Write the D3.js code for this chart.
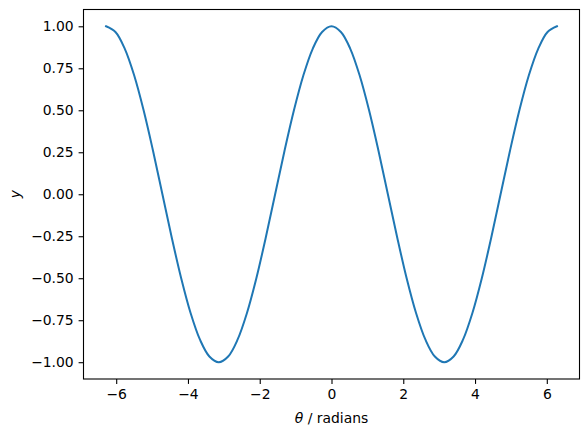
<!DOCTYPE html>
<html>
<head>
<meta charset="utf-8">
<script src="https://cdn.jsdelivr.net/npm/d3@7"></script>
<style>
  body { margin: 0; background: #fff; }
  text { font-family: "DejaVu Sans", sans-serif; fill: #000; }
</style>
</head>
<body>
<div id="chart"></div>
<script>
// theta samples (radians) and y values
const theta = [-6.283, -6.021, -5.760, -5.498, -5.236, -4.974, -4.712, -4.451, -4.189, -3.927, -3.665, -3.403,
  -3.142, -2.880, -2.618, -2.356, -2.094, -1.833, -1.571, -1.309, -1.047, -0.785, -0.524, -0.262,
  0, 0.262, 0.524, 0.785, 1.047, 1.309, 1.571, 1.833, 2.094, 2.356, 2.618, 2.880,
  3.142, 3.403, 3.665, 3.927, 4.189, 4.451, 4.712, 4.974, 5.236, 5.498, 5.760, 6.021, 6.283];
const yVals = [1.000, 0.966, 0.866, 0.707, 0.500, 0.259, 0.000, -0.259, -0.500, -0.707, -0.866, -0.966,
  -1.000, -0.966, -0.866, -0.707, -0.500, -0.259, 0.000, 0.259, 0.500, 0.707, 0.866, 0.966,
  1.000, 0.966, 0.866, 0.707, 0.500, 0.259, 0.000, -0.259, -0.500, -0.707, -0.866, -0.966,
  -1.000, -0.966, -0.866, -0.707, -0.500, -0.259, 0.000, 0.259, 0.500, 0.707, 0.866, 0.966, 1.000];
const xTicks = [-6, -4, -2, 0, 2, 4, 6];
const yTicks = [-1.00, -0.75, -0.50, -0.25, 0.00, 0.25, 0.50, 0.75, 1.00];

const data = theta.map((t, i) => ({x: t, y: yVals[i]}));

const margin = {top: 9.5, right: 8.5, bottom: 55, left: 83.5},
    width = 588 - margin.left - margin.right,
    height = 434 - margin.top - margin.bottom;

const svg = d3.select("#chart")
  .append("svg")
    .attr("width", 588)
    .attr("height", 434)
  .append("g")
    .attr("transform", `translate(${margin.left},${margin.top})`);

// matplotlib-style 5% padding on each side
const xPad = (d3.max(theta) - d3.min(theta)) * 0.05;
const x = d3.scaleLinear()
  .domain([d3.min(theta) - xPad, d3.max(theta) + xPad])
  .range([0, width]);
const y = d3.scaleLinear()
  .domain([-1.1, 1.1])
  .range([height, 0]);

const minus = s => s.replace("-", "\u2212");

const xAxis = svg.append("g")
  .attr("transform", `translate(0,${height})`)
  .call(d3.axisBottom(x).tickValues(xTicks).tickSize(4.9).tickPadding(4.9)
    .tickFormat(d => minus(d3.format("d")(d))));
const yAxis = svg.append("g")
  .call(d3.axisLeft(y).tickValues(yTicks).tickSize(4.9).tickPadding(4.9)
    .tickFormat(d => minus(d3.format(".2f")(d))));

[xAxis, yAxis].forEach(a => {
  a.select(".domain").remove();
  a.selectAll(".tick line").attr("stroke", "#000").attr("stroke-width", 1.1);
  a.selectAll(".tick text").style("font-size", "13.9px").style("font-family", "DejaVu Sans");
});

// the line
svg.append("path")
  .datum(data)
  .attr("fill", "none")
  .attr("stroke", "#1f77b4")
  .attr("stroke-width", 2)
  .attr("stroke-linejoin", "round")
  .attr("stroke-linecap", "square")
  .attr("d", d3.line()
    .x(d => x(d.x))
    .y(d => y(d.y))
    .curve(d3.curveCatmullRom.alpha(0.5)));

// frame
svg.append("rect")
  .attr("width", width)
  .attr("height", height)
  .attr("fill", "none")
  .attr("stroke", "#000")
  .attr("stroke-width", 1.1);

// axis labels
const xl = svg.append("text")
  .attr("x", width / 2)
  .attr("y", height + 44)
  .attr("text-anchor", "middle")
  .style("font-size", "13.9px");
xl.append("tspan").style("font-style", "italic").text("\u03b8");
xl.append("tspan").text(" / radians");

svg.append("text")
  .attr("transform", `translate(${-64},${height / 2}) rotate(-90)`)
  .attr("text-anchor", "middle")
  .style("font-size", "13.9px")
  .style("font-style", "italic")
  .text("y");
</script>
</body>
</html>
